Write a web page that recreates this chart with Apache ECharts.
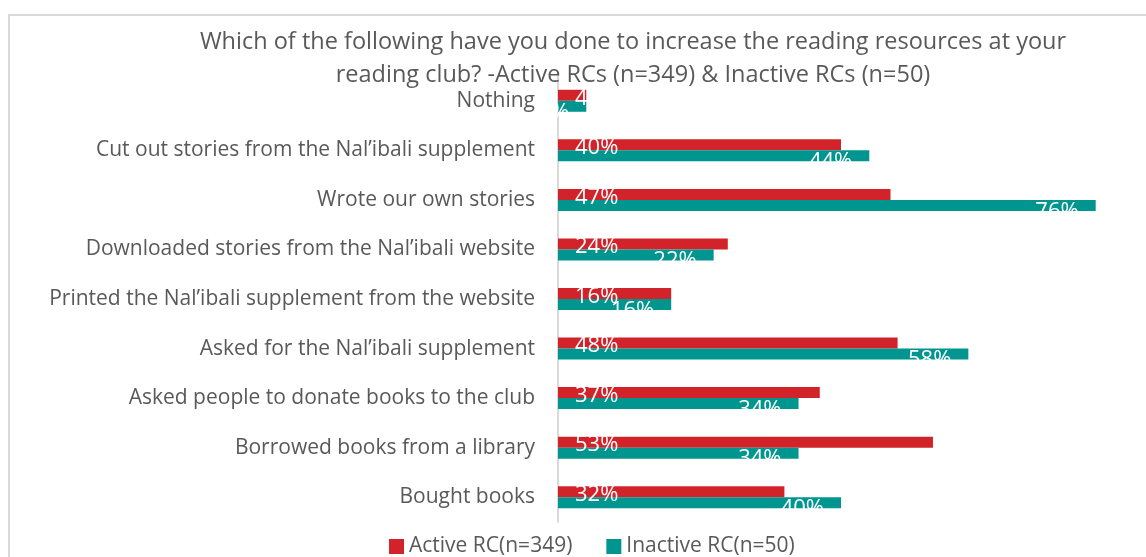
<!DOCTYPE html>
<html>
<head>
<meta charset="utf-8">
<script src="https://cdn.jsdelivr.net/npm/echarts@6/dist/echarts.min.js"></script>
<style>
  html, body { margin: 0; padding: 0; background: #fff; }
  #frame { position: absolute; left: 8px; top: 14px; width: 1200px; height: 600px;
           border-left: 2px solid #d9d9d9; border-top: 2px solid #d9d9d9; }
  #main { position: absolute; left: 0; top: 0; width: 1146px; height: 557px; }
</style>
</head>
<body>
<div id="frame"></div>
<div id="main"></div>
<script>
// categories, top to bottom
var categories = [
  'Nothing',
  'Cut out stories from the Nal\u2019ibali supplement',
  'Wrote our own stories',
  'Downloaded stories from the Nal\u2019ibali website',
  'Printed the Nal\u2019ibali supplement from the website',
  'Asked for the Nal\u2019ibali supplement',
  'Asked people to donate books to the club',
  'Borrowed books from a library',
  'Bought books'
];
var activeRC = [4, 40, 47, 24, 16, 48, 37, 53, 32];
var inactiveRC = [4, 44, 76, 22, 16, 58, 34, 34, 40];

var fontFam = 'Open Sans';
var chart = echarts.init(document.getElementById('main'), null, { renderer: 'canvas' });

var option = {
  animation: false,
  backgroundColor: 'transparent',
  title: {
    text: 'Which of the following have you done to increase the reading resources at your\nreading club? -Active RCs (n=349) & Inactive RCs (n=50)',
    left: 628,
    top: 21,
    textAlign: 'center',
    textStyle: { fontFamily: fontFam, fontSize: 23.5, fontWeight: 'normal', color: '#595959', lineHeight: 33 }
  },
  legend: {
    top: 531,
    left: 384,
    itemWidth: 15,
    itemHeight: 15,
    itemGap: 34,
    icon: 'rect',
    textStyle: { fontFamily: fontFam, fontSize: 21, color: '#595959' },
    data: ['Active RC(n=349)', 'Inactive RC(n=50)']
  },
  grid: { left: 558, right: 22, top: 76, bottom: 35, containLabel: false },
  xAxis: {
    type: 'value', min: 0, max: 80,
    show: false, splitLine: { show: false }
  },
  yAxis: {
    type: 'category',
    inverse: true,
    data: categories,
    axisLine: { lineStyle: { color: '#d9d9d9', width: 2 } },
    axisTick: { show: false },
    axisLabel: { fontFamily: fontFam, fontSize: 21, color: '#595959', margin: 23 }
  },
  series: [
    {
      name: 'Active RC(n=349)',
      type: 'bar',
      data: activeRC,
      barWidth: 11,
      barGap: '0%',
      itemStyle: { color: '#D2232A' },
      label: {
        show: true, position: 'insideLeft', offset: [12, 3],
        formatter: '{c}%', color: '#ffffff', fontFamily: fontFam, fontSize: 22
      }
    },
    {
      name: 'Inactive RC(n=50)',
      type: 'bar',
      data: inactiveRC,
      barWidth: 11,
      barGap: '0%',
      itemStyle: { color: '#00968F' },
      label: {
        show: true, position: 'insideRight', offset: [-12, 6],
        formatter: '{c}%', color: '#ffffff', fontFamily: fontFam, fontSize: 22
      }
    }
  ]
};
chart.setOption(option);
</script>
</body>
</html>
